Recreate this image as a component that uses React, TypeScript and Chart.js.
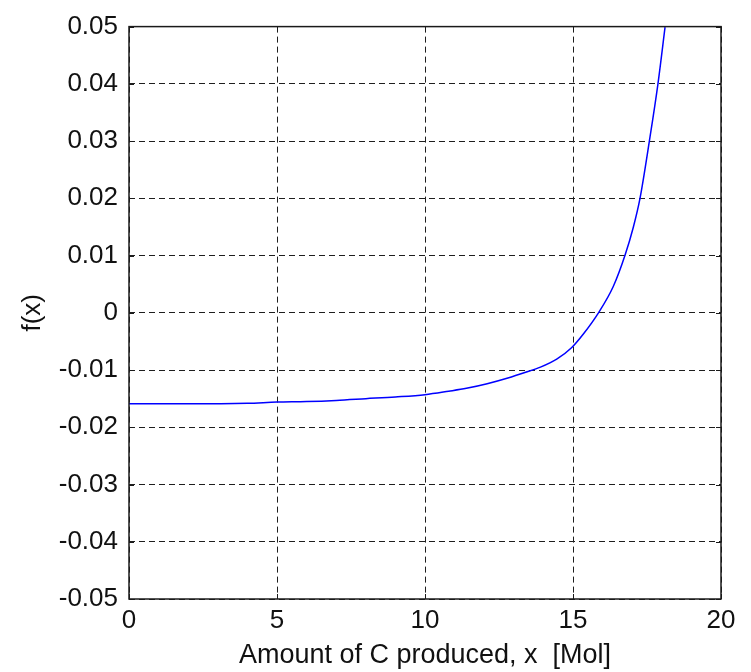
import React, { useEffect, useRef } from "react";
import { Chart, registerables } from "chart.js";

Chart.register(...registerables);

// Sampled points of f(x) against the amount of C produced
const xValues = [0, 2, 4, 5, 6, 7, 8, 9, 10, 10.8, 11.4, 12.1, 12.8, 13.4, 13.9, 14.45, 14.95, 15.35, 15.86, 16.36, 16.76, 17.04, 17.26, 17.58, 17.87, 18.11];
const fValues = [-0.0159, -0.0159, -0.0158, -0.0156, -0.0155, -0.0153, -0.015, -0.0147, -0.0143, -0.0137, -0.0132, -0.0124, -0.0114, -0.0104, -0.0095, -0.0081, -0.0061, -0.0037, 0.0, 0.0046, 0.0101, 0.015, 0.0199, 0.03, 0.04, 0.0499];

const xTicks = [0, 5, 10, 15, 20];
const yTicks = [-0.05, -0.04, -0.03, -0.02, -0.01, 0, 0.01, 0.02, 0.03, 0.04, 0.05];

const FONT = "'Liberation Sans', Arial, Helvetica, sans-serif";

// Box around the plot area plus short inward tick marks on all four sides
const frameAndTicks = {
  id: "frameAndTicks",
  afterDatasetsDraw(chart: any) {
    const { ctx, chartArea } = chart;
    const { left, right, top, bottom } = chartArea;
    const xs = chart.scales.x;
    const ys = chart.scales.y;
    const len = 5;
    ctx.save();
    ctx.strokeStyle = "#1a1a1a";
    ctx.lineWidth = 1;
    ctx.setLineDash([]);
    ctx.beginPath();
    for (const v of xTicks) {
      const px = Math.round(xs.getPixelForValue(v)) + 0.5;
      ctx.moveTo(px, bottom);
      ctx.lineTo(px, bottom - len);
      ctx.moveTo(px, top);
      ctx.lineTo(px, top + len);
    }
    for (const v of yTicks) {
      const py = Math.round(ys.getPixelForValue(v)) + 0.5;
      ctx.moveTo(left, py);
      ctx.lineTo(left + len, py);
      ctx.moveTo(right, py);
      ctx.lineTo(right - len, py);
    }
    ctx.stroke();
    ctx.lineWidth = 1.5;
    ctx.strokeRect(left, top, right - left, bottom - top);
    ctx.restore();
  },
};

export default function App() {
  const canvasRef = useRef<HTMLCanvasElement | null>(null);

  useEffect(() => {
    if (!canvasRef.current) return;
    const points = xValues.map((x, i) => ({ x, y: fValues[i] }));
    const chart = new Chart(canvasRef.current, {
      type: "line",
      data: {
        datasets: [
          {
            data: points,
            borderColor: "#0000ff",
            borderWidth: 1.5,
            pointRadius: 0,
            fill: false,
            cubicInterpolationMode: "monotone",
          },
        ],
      },
      options: {
        animation: false,
        responsive: false,
        maintainAspectRatio: false,
        layout: { padding: { left: 0, right: 30, top: 21, bottom: 0 } },
        plugins: { legend: { display: false }, tooltip: { enabled: false } },
        scales: {
          x: {
            type: "linear",
            min: 0,
            max: 20,
            afterBuildTicks: (scale: any) => {
              scale.ticks = xTicks.map((v) => ({ value: v }));
            },
            afterFit: (scale: any) => {
              scale.height = 73;
            },
            grid: { color: "#1e1e1e", lineWidth: 1, drawTicks: false },
            border: { display: false, dash: [6, 4] },
            ticks: {
              color: "#111",
              padding: 6,
              maxRotation: 0,
              font: { family: FONT, size: 26 },
              callback: (v: any) => String(v),
            },
            title: {
              display: true,
              text: "Amount of C produced, x  [Mol]",
              color: "#111",
              font: { family: FONT, size: 27 },
              padding: { top: 0, bottom: 0 },
            },
          },
          y: {
            type: "linear",
            min: -0.05,
            max: 0.05,
            afterBuildTicks: (scale: any) => {
              scale.ticks = yTicks.map((v) => ({ value: v }));
            },
            afterFit: (scale: any) => {
              scale.width = 129;
            },
            grid: { color: "#1e1e1e", lineWidth: 1, drawTicks: false },
            border: { display: false, dash: [6, 4] },
            ticks: {
              color: "#111",
              padding: 11,
              font: { family: FONT, size: 26 },
              callback: (v: any) => {
                const r = Math.round(Number(v) * 100) / 100;
                return r === 0 ? "0" : r.toFixed(2);
              },
            },
            title: {
              display: true,
              text: "f(x)",
              color: "#111",
              font: { family: FONT, size: 26 },
              padding: { top: 17, bottom: 0 },
            },
          },
        },
      },
      plugins: [frameAndTicks],
    } as any);
    return () => chart.destroy();
  }, []);

  return (
    <div style={{ position: "absolute", left: 0, top: 0, width: 751, height: 672, background: "#fff" }}>
      <canvas ref={canvasRef} width={751} height={672} style={{ display: "block" }} />
    </div>
  );
}
